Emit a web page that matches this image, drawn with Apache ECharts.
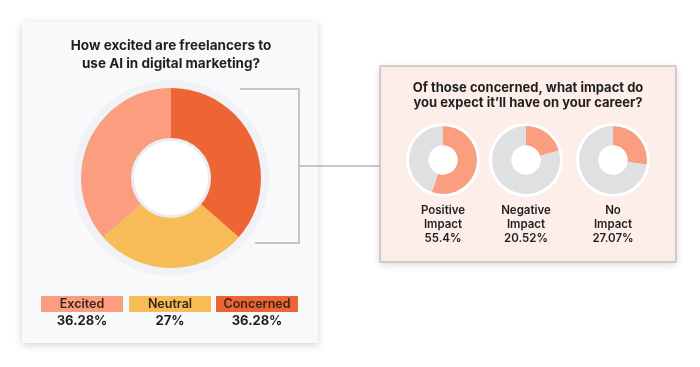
<!DOCTYPE html>
<html><head><meta charset="utf-8">
<script src="https://cdn.jsdelivr.net/npm/echarts@6/dist/echarts.min.js"></script>
<style>html,body{margin:0;padding:0;background:#fff}#c{width:700px;height:367px}</style>
</head><body><div id="c"></div>
<script>
const mainTitle = ['How excited are freelancers to', 'use AI in digital marketing?'];
const mainCategories = ['Concerned', 'Neutral', 'Excited'];
const mainValues = [36.28, 27, 36.28];
const legendOrder = ['Excited', 'Neutral', 'Concerned'];
const legendLabels = ['36.28%', '27%', '36.28%'];
const subTitle = ['Of those concerned, what impact do', 'you expect it\u2019ll have on your career?'];
const subCategories = [['Positive', 'Impact'], ['Negative', 'Impact'], ['No', 'Impact']];
const subValues = [55.4, 20.52, 27.07];
const subLabels = ['55.4%', '20.52%', '27.07%'];

const colors = {Excited: '#FA9E7F', Neutral: '#F7BB57', Concerned: '#EE6535'};
const FONT = 'Inter';
const dark = '#1f1f1f';

const chart = echarts.init(document.getElementById('c'));
const graphic = [];
// left card
graphic.push({type: 'rect', shape: {x: 22, y: 22, width: 296, height: 321}, style: {fill: '#f8f9fb', shadowBlur: 8, shadowColor: 'rgba(0,0,0,0.18)', shadowOffsetY: 2}, z: 0});
// right card
graphic.push({type: 'rect', shape: {x: 380, y: 66, width: 296, height: 196}, style: {fill: '#fdeee9', stroke: '#aaaaaa', lineWidth: 1, shadowBlur: 8, shadowColor: 'rgba(0,0,0,0.15)', shadowOffsetY: 2}, z: 0});
// bracket and connector
graphic.push({type: 'polyline', shape: {points: [[240, 89], [299, 89], [299, 243], [255, 243]]}, style: {stroke: '#b5b5b5', lineWidth: 1.5, fill: null}, z: 1});
graphic.push({type: 'line', shape: {x1: 299, y1: 166, x2: 380, y2: 166}, style: {stroke: '#b5b5b5', lineWidth: 1.5}, z: 1});
// titles
mainTitle.forEach((t, i) => graphic.push({type: 'text', x: 171, y: 46 + i * 18, style: {text: t, fill: dark, font: `700 13.5px ${FONT}`, textAlign: 'center', textVerticalAlign: 'middle'}, z: 5}));
subTitle.forEach((t, i) => graphic.push({type: 'text', x: 528, y: 88 + i * 15.5, style: {text: t, fill: dark, font: `700 13px ${FONT}`, textAlign: 'center', textVerticalAlign: 'middle'}, z: 5}));
// main donut decorations
graphic.push({type: 'circle', shape: {cx: 171, cy: 178, r: 98}, style: {fill: '#f0f2f5'}, z: 1});
graphic.push({type: 'circle', shape: {cx: 171, cy: 178, r: 38.5}, style: {fill: '#ffffff', stroke: '#e9edf1', lineWidth: 3}, z: 10});
// legend boxes
const boxX = [41, 129, 216];
legendOrder.forEach((name, i) => {
  graphic.push({type: 'rect', shape: {x: boxX[i], y: 296, width: 82, height: 16}, style: {fill: colors[name]}, z: 5});
  graphic.push({type: 'text', x: boxX[i] + 41, y: 304.5, style: {text: name, fill: '#3a2419', font: `600 12.5px ${FONT}`, textAlign: 'center', textVerticalAlign: 'middle'}, z: 6});
  graphic.push({type: 'text', x: boxX[i] + 41, y: 321, style: {text: legendLabels[i], fill: dark, font: `700 13px ${FONT}`, textAlign: 'center', textVerticalAlign: 'middle'}, z: 6});
});
// small donuts
const subX = [443, 526, 613];
const series = [{
  type: 'pie', center: [171, 178], radius: [38, 90], startAngle: 90, clockwise: true,
  label: {show: false}, labelLine: {show: false}, silent: true, animation: false, z: 3,
  data: mainCategories.map((n, i) => ({name: n, value: mainValues[i], itemStyle: {color: colors[n]}}))
}];
subValues.forEach((v, i) => {
  graphic.push({type: 'circle', shape: {cx: subX[i], cy: 160, r: 37}, style: {fill: '#ffffff'}, z: 1});
  graphic.push({type: 'circle', shape: {cx: subX[i], cy: 160, r: 14.5}, style: {fill: '#ffffff'}, z: 10});
  subCategories[i].forEach((t, j) => graphic.push({type: 'text', x: subX[i], y: 211 + j * 14, style: {text: t, fill: dark, font: `600 11.5px ${FONT}`, textAlign: 'center', textVerticalAlign: 'middle'}, z: 5}));
  graphic.push({type: 'text', x: subX[i], y: 239, style: {text: subLabels[i], fill: dark, font: `600 11.5px ${FONT}`, textAlign: 'center', textVerticalAlign: 'middle'}, z: 5});
  series.push({
    type: 'pie', center: [subX[i], 160], radius: [14.5, 34], startAngle: 90, clockwise: true,
    label: {show: false}, labelLine: {show: false}, silent: true, animation: false, z: 3,
    data: [{name: 'value', value: v, itemStyle: {color: '#FA9E7F'}}, {name: 'rest', value: 100 - v, itemStyle: {color: '#dee0e2'}}]
  });
});

chart.setOption({animation: false, graphic: {elements: graphic}, series});
</script></body></html>
